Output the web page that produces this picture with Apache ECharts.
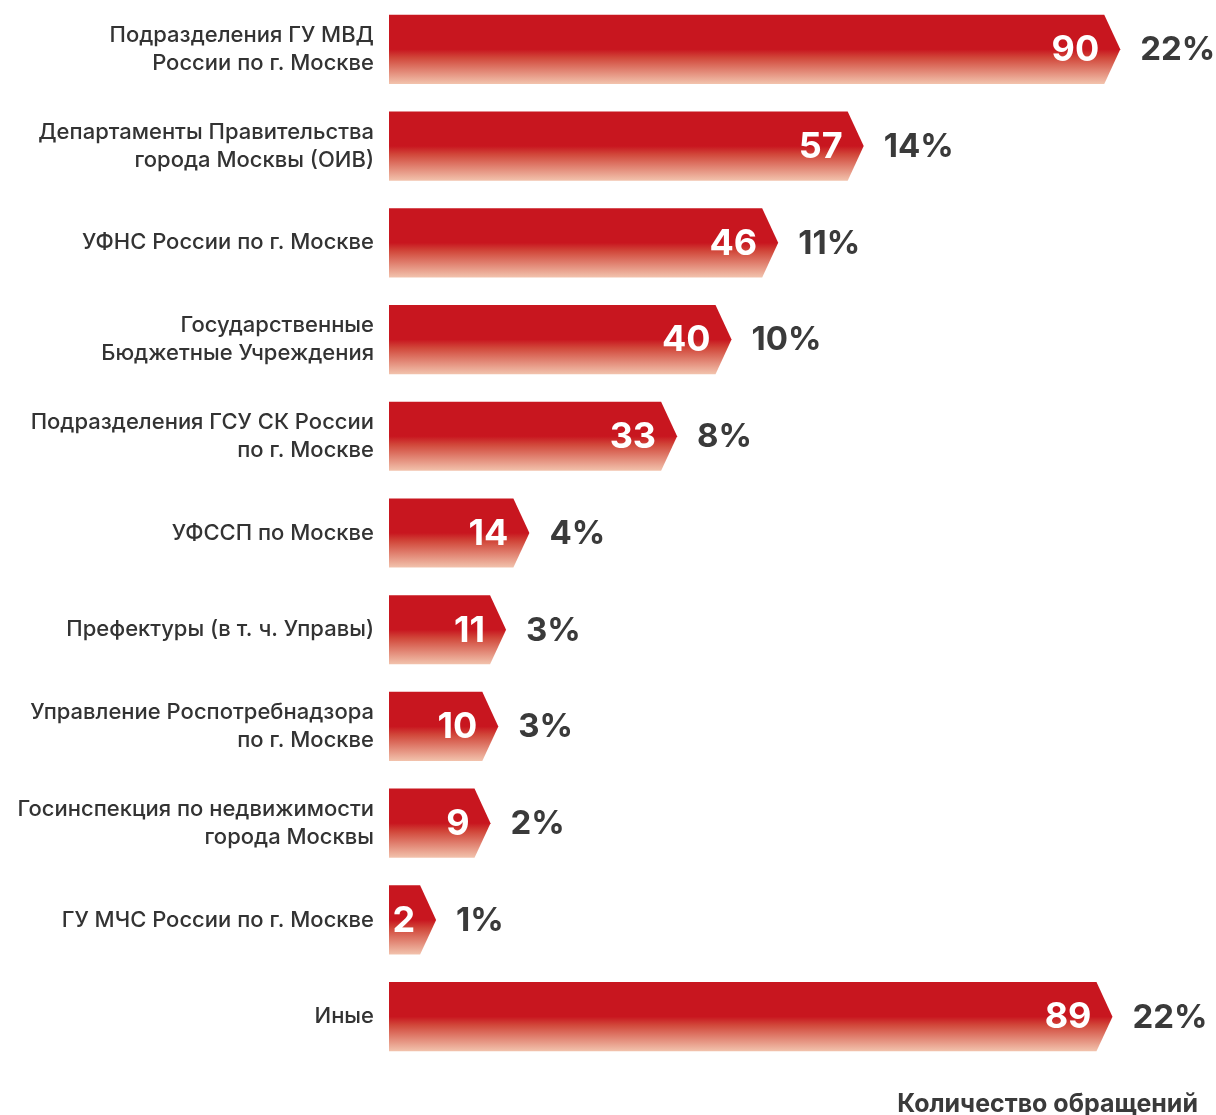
<!DOCTYPE html>
<html><head><meta charset="utf-8">
<script src="https://cdn.jsdelivr.net/npm/echarts@6/dist/echarts.min.js"></script>
<style>html,body{margin:0;padding:0;background:#fff}#c{width:1216px;height:1115px}</style>
</head><body><div id="c"></div>
<script>
var categories = [
  'Подразделения ГУ МВД\nРоссии по г. Москве',
  'Департаменты Правительства\nгорода Москвы (ОИВ)',
  'УФНС России по г. Москве',
  'Государственные\nБюджетные Учреждения',
  'Подразделения ГСУ СК России\nпо г. Москве',
  'УФССП по Москве',
  'Префектуры (в т. ч. Управы)',
  'Управление Роспотребнадзора\nпо г. Москве',
  'Госинспекция по недвижимости\nгорода Москвы',
  'ГУ МЧС России по г. Москве',
  'Иные'
];
var counts = [90, 57, 46, 40, 33, 14, 11, 10, 9, 2, 89];
var shares = ['22%', '14%', '11%', '10%', '8%', '4%', '3%', '3%', '2%', '1%', '22%'];
var axisTitle = 'Количество обращений';

var FONT = 'Inter';
var chart = echarts.init(document.getElementById('c'), null, {renderer: 'canvas'});
var data = counts.map(function (v, i) { return [v, i, shares[i]]; });

function renderItem(params, api) {
  var v = api.value(0), idx = api.value(1);
  var minX = api.coord([-2, idx])[0];
  var end = api.coord([v, idx]);
  var h = api.size([0, 1])[1] * 0.715;
  var cy = end[1], top = cy - h / 2, bot = cy + h / 2;
  var tip = 16;
  var grad = new echarts.graphic.LinearGradient(0, 0, 0, 1, [
    {offset: 0, color: '#C8161F'},
    {offset: 0.5, color: '#C8161F'},
    {offset: 0.62, color: '#D1473A'},
    {offset: 1, color: '#F2C3AD'}
  ]);
  return {
    type: 'group',
    children: [
      {type: 'polygon', shape: {points: [[minX, top], [end[0], top], [end[0] + tip, cy], [end[0], bot], [minX, bot]]},
       style: {fill: grad}},
      {type: 'text', x: end[0] - 5, y: cy + 1,
       style: {text: String(v), fill: '#fff', font: 'bold 36px ' + FONT, align: 'right', verticalAlign: 'middle'}},
      {type: 'text', x: end[0] + tip + 20, y: cy + 1,
       style: {text: api.value(2), fill: '#3a3a3a', font: 'bold 33px ' + FONT, align: 'left', verticalAlign: 'middle'}}
    ]
  };
}

chart.setOption({
  animation: false,
  grid: {left: 389, right: 34, top: 1, bottom: 50, containLabel: false, outerBoundsMode: 'none'},
  xAxis: {
    type: 'value', min: -2, max: 100,
    name: axisTitle, nameLocation: 'end',
    axisLine: {show: false}, axisTick: {show: false}, axisLabel: {show: false}, splitLine: {show: false},
    nameGap: 0,
    nameTextStyle: {fontFamily: FONT, fontWeight: 'bold', fontSize: 25, color: '#3a3a3a',
      align: 'right', verticalAlign: 'top', padding: [27, -16, 0, 0]}
  },
  yAxis: {
    type: 'category', data: categories, inverse: true,
    axisLine: {show: false}, axisTick: {show: false}, splitLine: {show: false},
    axisLabel: {fontFamily: FONT, fontWeight: 500, fontSize: 22, color: '#333', lineHeight: 28, margin: 15, align: 'right'}
  },
  series: [{
    type: 'custom', renderItem: renderItem, data: data,
    encode: {x: 0, y: 1}, clip: false
  }]
});
</script></body></html>
